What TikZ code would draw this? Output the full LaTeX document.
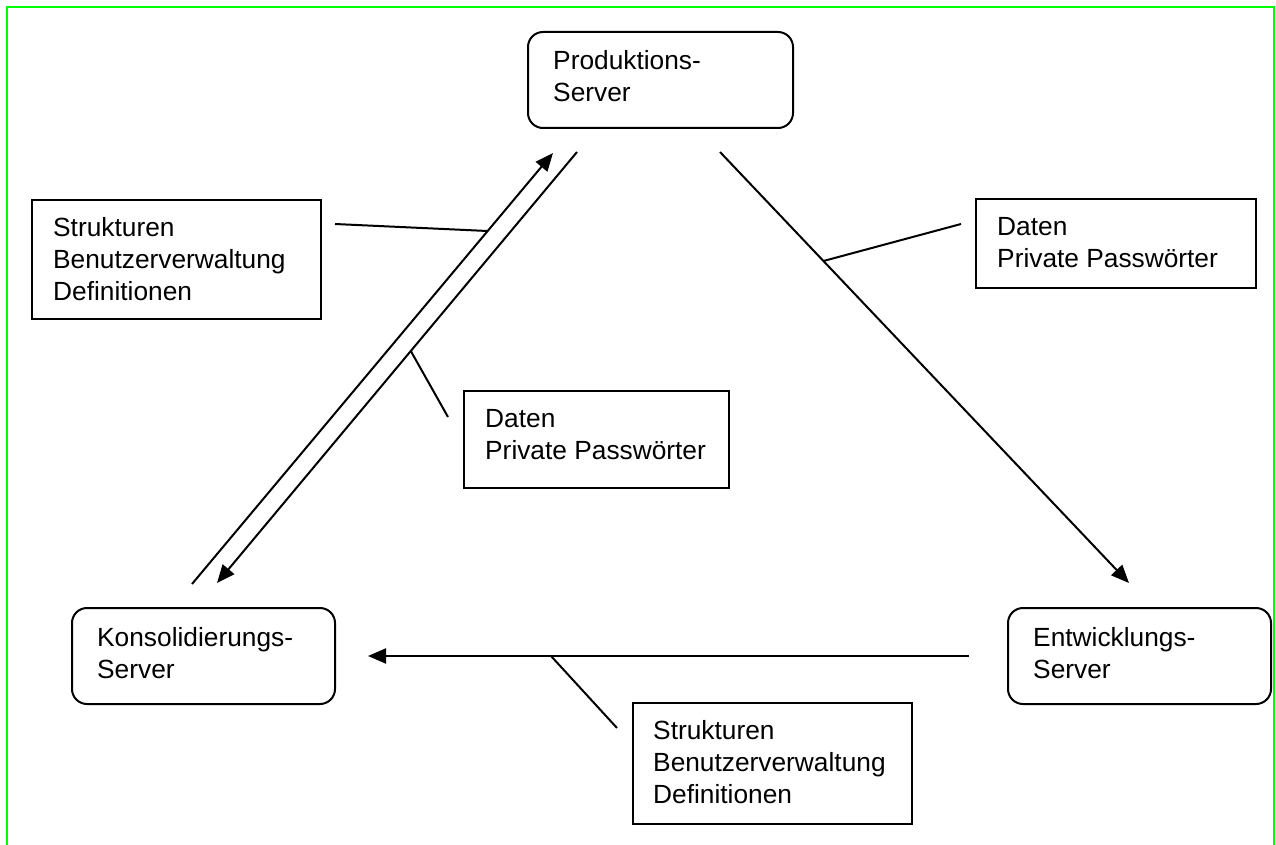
\documentclass[tikz,border=0pt]{standalone}
\usepackage{fontspec}
\setmainfont{Liberation Sans}
\usetikzlibrary{arrows.meta,calc}
\definecolor{framegreen}{RGB}{0,255,0}
\begin{document}
\begin{tikzpicture}[x=1pt,y=-1pt,
  server/.style={draw, line width=2pt, rounded corners=15pt, inner sep=0pt, minimum height=96pt},
  labelbox/.style={draw, line width=2pt, inner sep=0pt},
  txt/.style={font=\fontsize{26.3}{32}\selectfont, align=left, inner sep=0pt, anchor=base west},
  flow/.style={line width=2pt, -{Triangle[length=18pt,width=15pt]}},
  callout/.style={line width=2pt},
  frame/.style={line width=2.4pt, draw=framegreen, line join=miter}]
\useasboundingbox (0,0) rectangle (1276,845);
% frame
\draw[frame] (7,850) -- (7,7) -- (1274,7) -- (1274,850);
% servers
\node[server, minimum width=265pt] (prod) at (660.5,80) {};
\node[server, minimum width=263pt] (kons) at (203.5,656) {};
\node[server, minimum width=263pt] (entw) at (1139.5,656) {};
\node[txt] (prodt) at (553,102) {Produktions-\\Server};
\node[txt] (konst) at (97,678) {Konsolidierungs-\\Server};
\node[txt] (entwt) at (1033,678) {Entwicklungs-\\Server};
% label boxes
\node[labelbox, minimum width=289pt, minimum height=119pt] (lb1) at (176.5,259.5) {};
\node[labelbox, minimum width=280pt, minimum height=89pt] (lb2) at (1116,243.5) {};
\node[labelbox, minimum width=265pt, minimum height=97pt] (lb3) at (596.5,439.5) {};
\node[labelbox, minimum width=279pt, minimum height=121pt] (lb4) at (772.5,763.5) {};
\node[txt] (lb1t) at (53,300) {Strukturen\\Benutzerverwaltung\\Definitionen};
\node[txt] (lb2t) at (997,267) {Daten\\Private Passwörter};
\node[txt] (lb3t) at (485,459) {Daten\\Private Passwörter};
\node[txt] (lb4t) at (653,803) {Strukturen\\Benutzerverwaltung\\Definitionen};
% arrow end points
\coordinate (a1s) at (192,584);
\coordinate (a1e) at (553,153);
\coordinate (a2s) at (577,152);
\coordinate (a2e) at (217,583);
\coordinate (a3s) at (720,152);
\coordinate (a3e) at (1129,583);
\coordinate (a4s) at (969,656);
\coordinate (a4e) at (368,656);
\draw[flow] (a1s) -- (a1e);
\draw[flow] (a2s) -- (a2e);
\draw[flow] (a3s) -- (a3e);
\draw[flow] (a4s) -- (a4e);
% callouts
\coordinate (c1) at (335,224);
\coordinate (c2) at (448,417);
\coordinate (c3) at (961,224);
\coordinate (c4) at (617,728);
\draw[callout] (c1) -- ($(a1s)!0.819!(a1e)$);
\draw[callout] (c2) -- ($(a2s)!0.4617!(a2e)$);
\draw[callout] (c3) -- ($(a3s)!0.2529!(a3e)$);
\draw[callout] (c4) -- ($(a4s)!0.6955!(a4e)$);
\end{tikzpicture}
\end{document}
